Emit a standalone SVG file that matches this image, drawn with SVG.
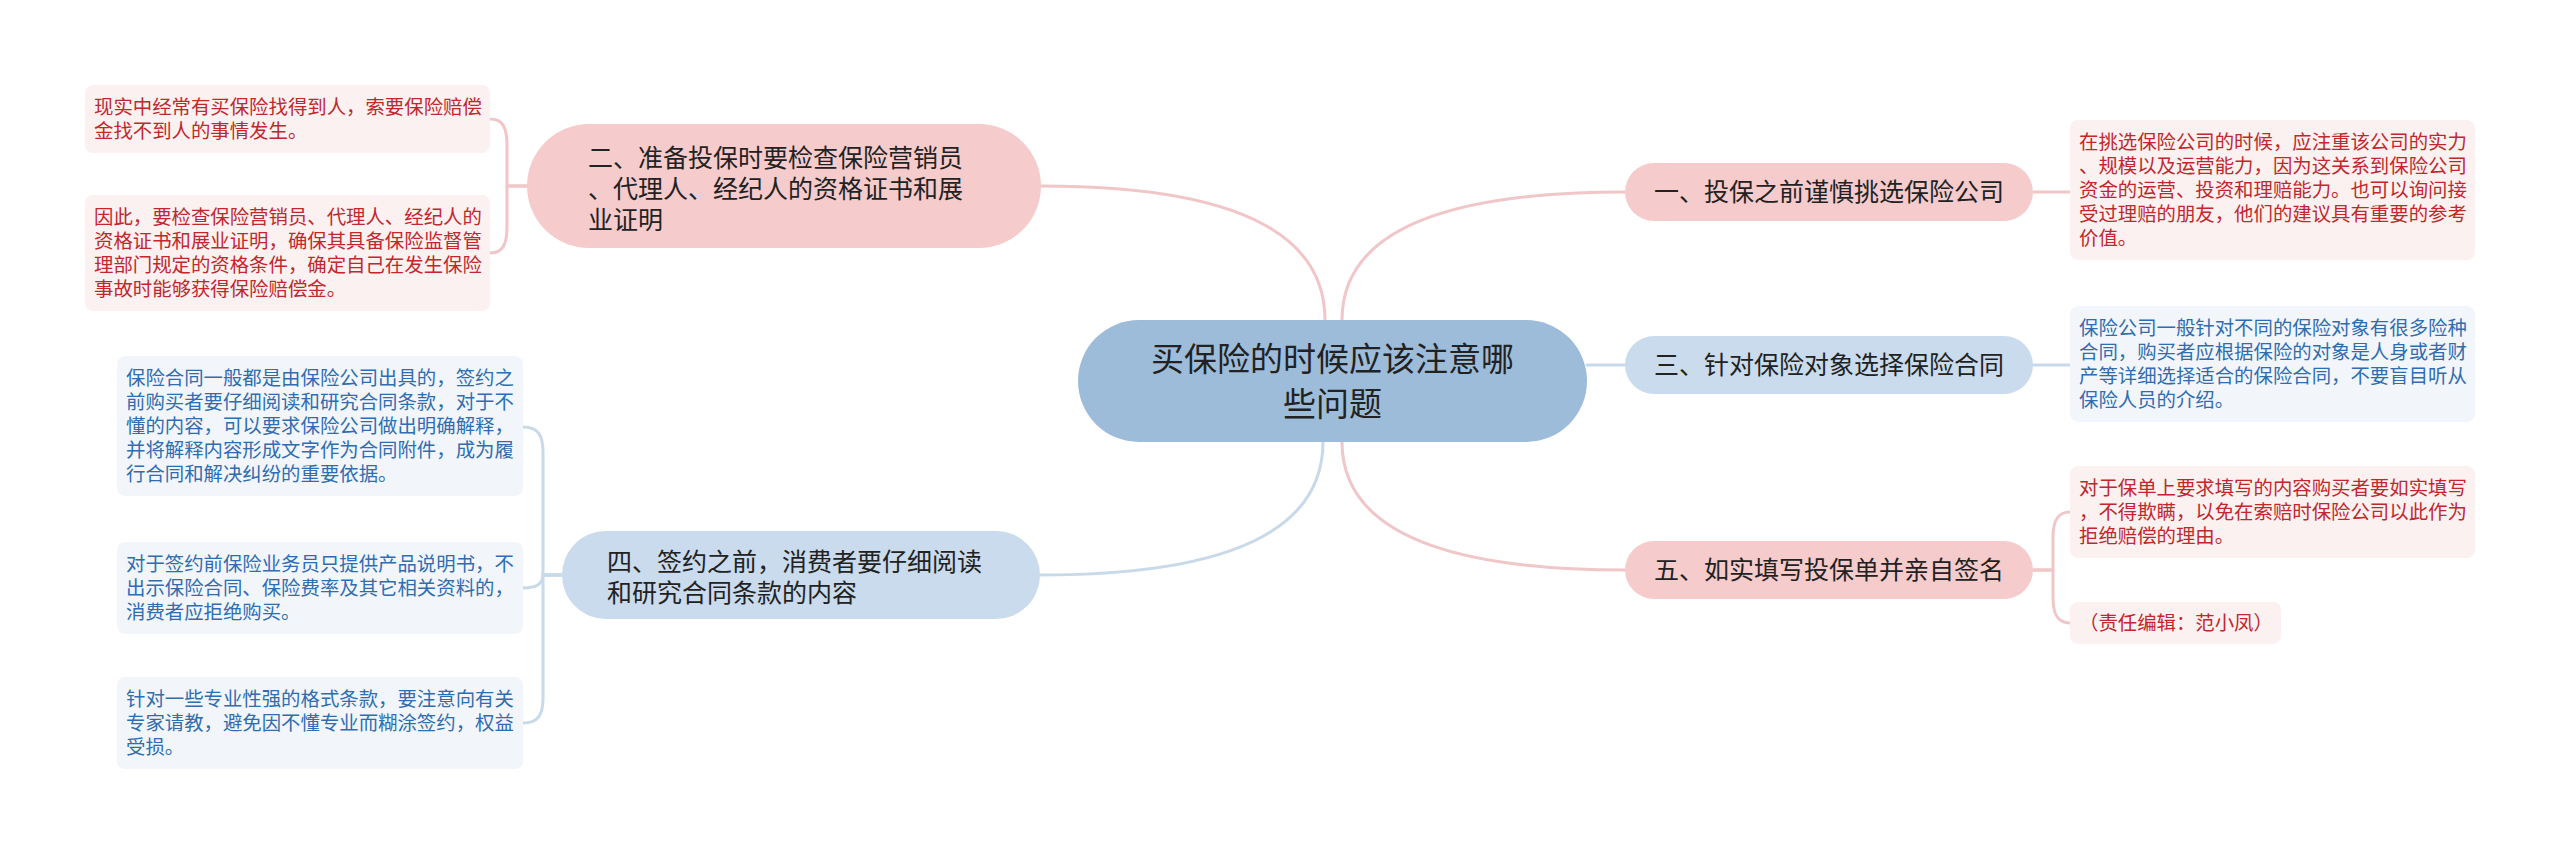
<svg xmlns="http://www.w3.org/2000/svg" width="2560" height="855" viewBox="0 0 2560 855">
<style>
text{font-family:"Noto Sans CJK SC","Noto Sans",sans-serif;}
.cl{fill:none;stroke-width:3;stroke-linecap:round;}
.pk{stroke:#f0c6c8;}
.bl{stroke:#c8d9ea;}
.np{fill:#f5cbcc;}
.nb{fill:#c9dbec;}
.nt{font-size:25px;fill:#222;}
.bp{fill:#fcf1f1;}
.bb{fill:#f2f6fb;}
.tr{font-size:19.4px;fill:#c1272d;}
.tb{font-size:19.4px;fill:#2f6db0;}
</style>
<rect width="2560" height="855" fill="#ffffff"/>
<g id="connectors">
<path class="cl pk" d="M1342 320 Q1342 192 1625 192"/>
<path class="cl pk" d="M1325 320 Q1325 186 1041 186"/>
<path class="cl bl" d="M1587 365 L1625 365"/>
<path class="cl pk" d="M1342 442 Q1342 570 1625 570"/>
<path class="cl bl" d="M1323 442 Q1323 575 1040 575"/>
<path class="cl pk" d="M2032 192 L2070 192"/>
<path class="cl bl" d="M2033 365 L2070 365"/>
<path class="cl pk" d="M2033 570 H2053 V537 C2053 520 2058 512 2070 512"/>
<path class="cl pk" d="M2033 570 H2053 V598 C2053 615 2058 623 2070 623"/>
<path class="cl pk" d="M527 186 H507 V145 C507 128 503 119 490 119"/>
<path class="cl pk" d="M527 186 H507 V227 C507 244 503 253 490 253"/>
<path class="cl bl" d="M562 575 H543 V452 C543 435 538 427 523 427"/>
<path class="cl bl" d="M562 575 H543 C543 583 538 588 523 588"/>
<path class="cl bl" d="M562 575 H543 V698 C543 715 538 723 523 723"/>
</g>
<g id="center">
<rect x="1078" y="320" width="509" height="122" rx="61" fill="#9dbcd9"/>
<text x="1332.5" y="370.5" font-size="33" fill="#222" text-anchor="middle">买保险的时候应该注意哪</text>
<text x="1332.5" y="415.5" font-size="33" fill="#222" text-anchor="middle">些问题</text>
</g>
<g id="node1">
<rect class="np" x="1625" y="163" width="408" height="58" rx="29"/>
<text class="nt" x="1829" y="201" text-anchor="middle">一、投保之前谨慎挑选保险公司</text>
</g>
<g id="node3">
<rect class="nb" x="1625" y="336" width="408" height="58" rx="29"/>
<text class="nt" x="1829" y="374" text-anchor="middle">三、针对保险对象选择保险合同</text>
</g>
<g id="node5">
<rect class="np" x="1625" y="541" width="408" height="58" rx="29"/>
<text class="nt" x="1829" y="579" text-anchor="middle">五、如实填写投保单并亲自签名</text>
</g>
<g id="node2">
<rect class="np" x="527" y="124" width="514" height="124" rx="62"/>
<text class="nt" x="588" y="167">二、准备投保时要检查保险营销员</text>
<text class="nt" x="588" y="198">、代理人、经纪人的资格证书和展</text>
<text class="nt" x="588" y="229">业证明</text>
</g>
<g id="node4">
<rect class="nb" x="562" y="531" width="478" height="88" rx="44"/>
<text class="nt" x="607" y="571">四、签约之前，消费者要仔细阅读</text>
<text class="nt" x="607" y="602">和研究合同条款的内容</text>
</g>
<g id="box1">
<rect class="bp" x="2070" y="120" width="405" height="140" rx="8"/>
<text class="tr" x="2079" y="149">在挑选保险公司的时候，应注重该公司的实力</text>
<text class="tr" x="2079" y="173">、规模以及运营能力，因为这关系到保险公司</text>
<text class="tr" x="2079" y="197">资金的运营、投资和理赔能力。也可以询问接</text>
<text class="tr" x="2079" y="221">受过理赔的朋友，他们的建议具有重要的参考</text>
<text class="tr" x="2079" y="245">价值。</text>
</g>
<g id="box3">
<rect class="bb" x="2070" y="306" width="405" height="116" rx="8"/>
<text class="tb" x="2079" y="335">保险公司一般针对不同的保险对象有很多险种</text>
<text class="tb" x="2079" y="359">合同，购买者应根据保险的对象是人身或者财</text>
<text class="tb" x="2079" y="383">产等详细选择适合的保险合同，不要盲目听从</text>
<text class="tb" x="2079" y="407">保险人员的介绍。</text>
</g>
<g id="box5a">
<rect class="bp" x="2070" y="466" width="405" height="92" rx="8"/>
<text class="tr" x="2079" y="495">对于保单上要求填写的内容购买者要如实填写</text>
<text class="tr" x="2079" y="519">，不得欺瞒，以免在索赔时保险公司以此作为</text>
<text class="tr" x="2079" y="543">拒绝赔偿的理由。</text>
</g>
<g id="box5b">
<rect class="bp" x="2070" y="602" width="211" height="42" rx="8"/>
<text class="tr" x="2079" y="630">（责任编辑：范小凤）</text>
</g>
<g id="box2a">
<rect class="bp" x="85" y="85" width="405" height="68" rx="8"/>
<text class="tr" x="94" y="114">现实中经常有买保险找得到人，索要保险赔偿</text>
<text class="tr" x="94" y="138">金找不到人的事情发生。</text>
</g>
<g id="box2b">
<rect class="bp" x="85" y="195" width="405" height="116" rx="8"/>
<text class="tr" x="94" y="224">因此，要检查保险营销员、代理人、经纪人的</text>
<text class="tr" x="94" y="248">资格证书和展业证明，确保其具备保险监督管</text>
<text class="tr" x="94" y="272">理部门规定的资格条件，确定自己在发生保险</text>
<text class="tr" x="94" y="296">事故时能够获得保险赔偿金。</text>
</g>
<g id="box4a">
<rect class="bb" x="117" y="356" width="406" height="140" rx="8"/>
<text class="tb" x="126" y="385">保险合同一般都是由保险公司出具的，签约之</text>
<text class="tb" x="126" y="409">前购买者要仔细阅读和研究合同条款，对于不</text>
<text class="tb" x="126" y="433">懂的内容，可以要求保险公司做出明确解释，</text>
<text class="tb" x="126" y="457">并将解释内容形成文字作为合同附件，成为履</text>
<text class="tb" x="126" y="481">行合同和解决纠纷的重要依据。</text>
</g>
<g id="box4b">
<rect class="bb" x="117" y="542" width="406" height="92" rx="8"/>
<text class="tb" x="126" y="571">对于签约前保险业务员只提供产品说明书，不</text>
<text class="tb" x="126" y="595">出示保险合同、保险费率及其它相关资料的，</text>
<text class="tb" x="126" y="619">消费者应拒绝购买。</text>
</g>
<g id="box4c">
<rect class="bb" x="117" y="677" width="406" height="92" rx="8"/>
<text class="tb" x="126" y="706">针对一些专业性强的格式条款，要注意向有关</text>
<text class="tb" x="126" y="730">专家请教，避免因不懂专业而糊涂签约，权益</text>
<text class="tb" x="126" y="754">受损。</text>
</g>
</svg>
